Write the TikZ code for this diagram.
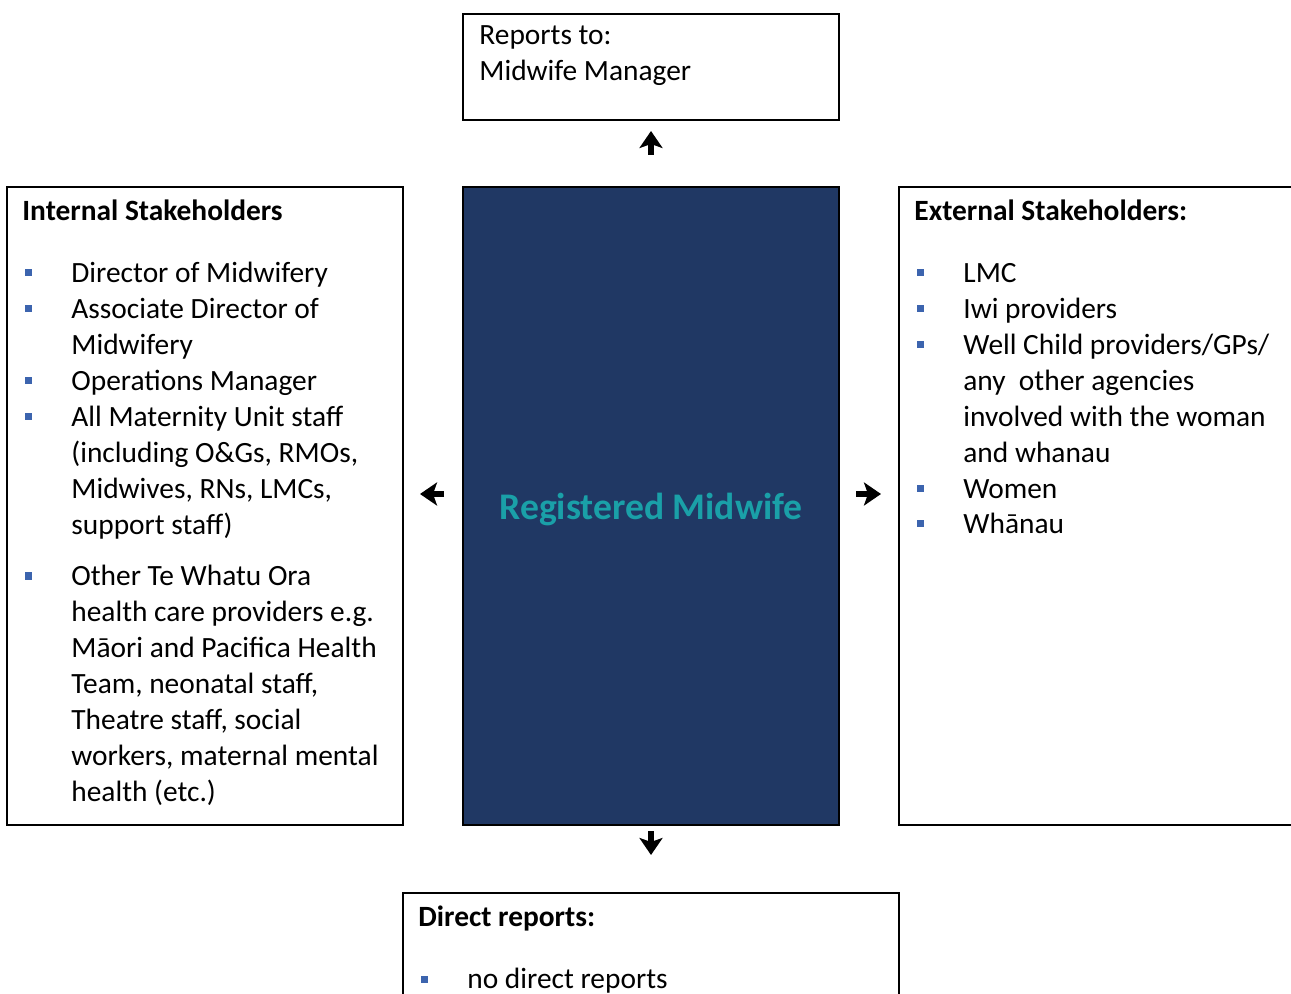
\documentclass[tikz,border=0pt]{standalone}
\usepackage{fontspec}
\setmainfont{Carlito}
\usetikzlibrary{arrows.meta}
\definecolor{midnavy}{HTML}{203864}
\definecolor{titleteal}{HTML}{1AA0A8}
\definecolor{bulletblue}{HTML}{3C64AE}
\tikzstyle{box} = [rectangle, draw=black, line width=1pt, inner sep=0pt]
\tikzstyle{midbox} = [box, fill=midnavy]
\tikzstyle{txt} = [anchor=north west, inner sep=0pt, align=left,
font=\fontsize{14.7}{17.95}\selectfont, execute at begin node=\strut]
\tikzstyle{head} = [anchor=base west, inner sep=0pt, font=\fontsize{14.7}{17.95}\selectfont\bfseries]
\tikzstyle{bullet} = [rectangle, fill=bulletblue, minimum size=3.5pt, inner sep=0pt]
\tikzstyle{arrow} = [line width=3pt,-{Stealth[length=8.5pt,width=11.5pt,inset=2pt]}]

\begin{document}
\begin{tikzpicture}[x=0.5pt,y=-0.5pt]
\useasboundingbox (0,0) rectangle (1291,994);
\clip (0,0) rectangle (1291,994);

% boxes
\node (reports) [box, minimum width=188pt, minimum height=53pt] at (651,67) {};
\node (mid) [midbox, minimum width=188pt, minimum height=319pt] at (651,506) {};
\node (intbox) [box, minimum width=198pt, minimum height=319pt] at (205,506) {};
\node (extbox) [box, minimum width=203pt, minimum height=319pt] at (1102,506) {};
\node (direct) [box, minimum width=248pt, minimum height=58.5pt] at (651,951.5) {};

% reports to
\node (reptxt) [txt] at (479,25) {Reports to:\\Midwife Manager};

% centre
\node (role) [font=\fontsize{18.8}{22}\selectfont\bfseries, text=titleteal] at (651,509) {Registered Midwife};

% internal
\node (inthead) [head] at (22,221) {Internal Stakeholders};
\node (b1) [bullet] at (28.5,273) {};
\node (i1) [txt] at (71,257) {Director of Midwifery};
\node (b2) [bullet] at (28.5,309) {};
\node (i2) [txt] at (71,298) {Associate Director of\\Midwifery};
\node (b3) [bullet] at (28.5,381) {};
\node (i3) [txt] at (71,365) {Operations Manager};
\node (b4) [bullet] at (28.5,417) {};
\node (i4) [txt] at (71,406) {All Maternity Unit staff\\(including O\&Gs, RMOs,\\Midwives, RNs, LMCs,\\support staff)};
\node (b5) [bullet] at (28.5,576) {};
\node (i5) [txt] at (71,565) {Other Te Whatu Ora\\health care providers e.g.\\Māori and Pacifica Health\\Team, neonatal staff,\\Theatre staff, social\\workers, maternal mental\\health (etc.)};

% external
\node (exthead) [head] at (914,221) {External Stakeholders:};
\node (e1b) [bullet] at (920.5,273) {};
\node (e1) [txt] at (963,257) {LMC};
\node (e2b) [bullet] at (920.5,309) {};
\node (e2) [txt] at (963,293) {Iwi providers};
\node (e3b) [bullet] at (920.5,345) {};
\node (e3) [txt] at (963,334) {Well Child providers/GPs/\\any\ \ other agencies\\involved with the woman\\and whanau};
\node (e4b) [bullet] at (920.5,489) {};
\node (e4) [txt] at (963,473) {Women};
\node (e5b) [bullet] at (920.5,524) {};
\node (e5) [txt] at (963,508) {Whānau};

% direct reports
\node (dirhead) [head] at (418,926) {Direct reports:};
\node (d1b) [bullet] at (424.5,979) {};
\node (d1) [txt] at (467,963) {no direct reports};

\draw [arrow, shorten <=15.5pt, shorten >=5pt] (mid.north) -- (reports.south);
\draw [arrow, shorten <=9pt, shorten >=8pt] ([yshift=6pt]mid.west) -- ([yshift=6pt]intbox.east);
\draw [arrow, shorten <=8pt, shorten >=8.5pt] ([yshift=6pt]mid.east) -- ([yshift=6pt]extbox.west);
\draw [arrow, shorten <=2.5pt, shorten >=18.5pt] (mid.south) -- (direct.north);

\end{tikzpicture}
\end{document}
